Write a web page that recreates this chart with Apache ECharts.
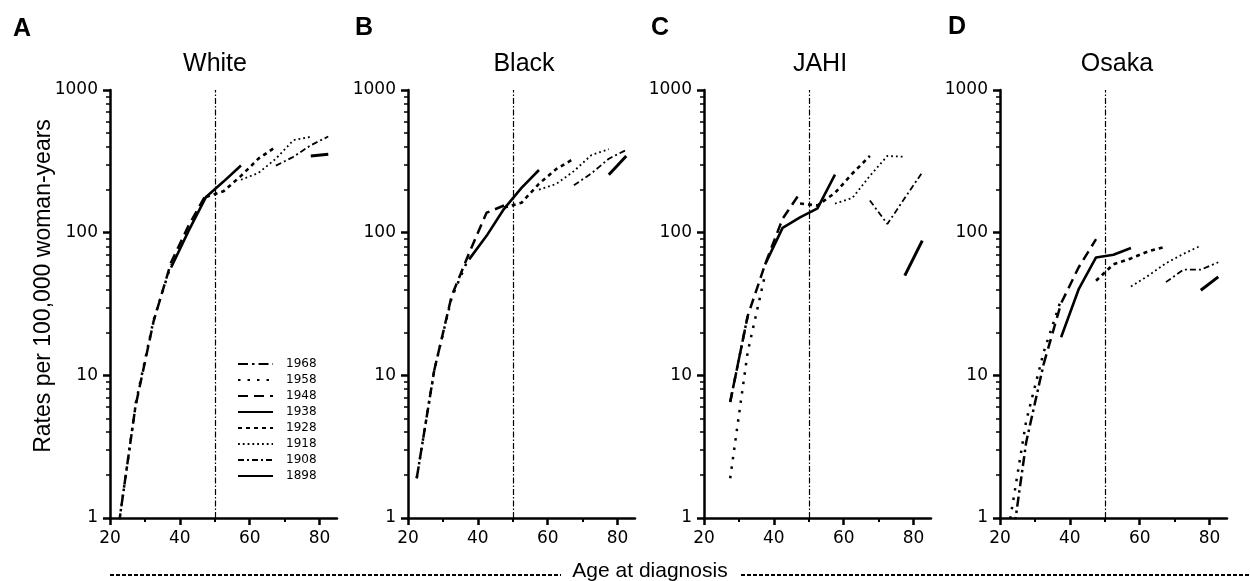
<!DOCTYPE html>
<html><head><meta charset="utf-8">
<script src="https://cdn.jsdelivr.net/npm/echarts@6/dist/echarts.min.js"></script>
<style>html,body{margin:0;padding:0;background:#fff}#c{width:1250px;height:581px}</style>
</head><body><div id="c"></div><script>
// ---- data ----
const cohorts = ['1968','1958','1948','1938','1928','1918','1908','1898'];
const panelTitles = ['White','Black','JAHI','Osaka'];
const panelLetters = ['A','B','C','D'];
const xTicks = [20,40,60,80];
const xMinorTicks = [30,50,70];
const yMinorTicks = [2,3,4,5,6,7,8,9,20,30,40,50,60,70,80,90,200,300,400,500,600,700,800,900];
const refAge = 50;
const xAxisLabel = 'Age at diagnosis';
const yAxisLabel = 'Rates per 100,000 woman-years';

// [age, rate] per cohort, in cohort order 1968 ... 1898
const white = [
  [[22.5,0.89],[27.5,6.6]],
  [[22.5,0.89],[27.5,6.6],[32.5,24.5],[37.5,60]],
  [[27.5,6.4],[32.5,24],[37.5,62],[42.5,112],[47.5,185]],
  [[37.5,57],[42.5,103],[47.5,178],[52.5,228],[57.5,296]],
  [[47.5,178],[52.5,195],[57.5,250],[62.5,330],[67.5,400]],
  [[57.5,235],[62.5,262],[67.5,330],[72.5,445],[77.5,470]],
  [[67.5,295],[72.5,340],[77.5,410],[82.5,472]],
  [[77.5,345],[82.5,355]]
];
const black = [
  [[22.5,1.9],[27.5,10.8]],
  [[22.5,1.9],[27.5,10.8],[32.5,35],[37.5,68]],
  [[27.5,10.8],[32.5,36],[37.5,72],[42.5,138],[47.5,155]],
  [[37.5,65],[42.5,95],[47.5,147],[52.5,206],[57.5,275]],
  [[47.5,150],[52.5,162],[57.5,220],[62.5,280],[67.5,330]],
  [[57.5,200],[62.5,220],[67.5,270],[72.5,350],[77.5,385]],
  [[67.5,215],[72.5,260],[77.5,330],[82.5,380]],
  [[77.5,255],[82.5,345]]
];
const jahi = [
  [[27.5,6.5],[32.5,26]],
  [[27.5,1.9],[32.5,14.5],[37.5,51]],
  [[27.5,6.5],[32.5,26],[37.5,60],[42.5,125],[47.5,190]],
  [[37.5,60],[42.5,108],[47.5,128],[52.5,148],[57.5,255]],
  [[47.5,160],[52.5,155],[57.5,190],[62.5,260],[67.5,345]],
  [[57.5,160],[62.5,175],[67.5,250],[72.5,345],[77.5,340]],
  [[67.5,168],[72.5,115],[77.5,175],[82.5,265]],
  [[77.5,50],[82.5,88]]
];
const osaka = [
  [[22.5,0.45],[27.5,3.4],[32.5,12]],
  [[22.5,0.85],[27.5,4.8],[32.5,14.5],[37.5,34]],
  [[32.5,12],[37.5,32],[42.5,57],[47.5,90]],
  [[37.5,18.5],[42.5,40],[47.5,67],[52.5,70],[57.5,78]],
  [[47.5,46],[52.5,60],[57.5,66],[62.5,74],[67.5,80]],
  [[57.5,42],[62.5,50],[67.5,61],[72.5,71],[77.5,81]],
  [[67.5,45],[72.5,55],[77.5,55],[82.5,62]],
  [[77.5,39.5],[82.5,49]]
];
const panels = [white, black, jahi, osaka];

// ---- styles ----
const cohortStyles = [
  {type:[10,4,2.5,4], width:2.5},
  {type:[2.5,7], width:2.5},
  {type:[10,6], width:2.5},
  {type:'solid', width:2.6},
  {type:[4,4], width:2.6},
  {type:[1.8,3], width:1.8},
  {type:[6,3,2,3], width:1.8},
  {type:'solid', width:3}
];
const gridLefts = [110, 408, 704, 1000];
const titleX = [215, 524, 820, 1117];
const letterPos = [[22,29],[364,28],[660,28],[957,27]];
const tickFont = 'DejaVu Sans';
const textFont = 'Liberation Sans, Arial, sans-serif';

const grid = [], xAxis = [], yAxis = [], series = [], graphic = [];
gridLefts.forEach((l, p) => {
  grid.push({left:l, top:90, width:227, height:428, containLabel:false, outerBoundsMode:'none'});
  xAxis.push({type:'value', gridIndex:p, min:20, max:85, position:'bottom',
    axisLine:{show:true, onZero:false, lineStyle:{color:'#000', width:2.5}},
    axisTick:{show:true, customValues:xTicks, length:7, lineStyle:{color:'#000', width:2.5}},
    axisLabel:{show:true, customValues:xTicks, color:'#000', fontSize:17, fontFamily:tickFont, margin:12},
    splitLine:{show:false}});
  xAxis.push({type:'value', gridIndex:p, min:20, max:85, position:'bottom',
    axisLine:{show:false},
    axisTick:{show:true, customValues:xMinorTicks, length:4, lineStyle:{color:'#000', width:2}},
    axisLabel:{show:false}, splitLine:{show:false}});
  yAxis.push({type:'log', logBase:10, gridIndex:p, min:1, max:1000, position:'left',
    axisLine:{show:true, onZero:false, lineStyle:{color:'#000', width:2.5}},
    axisTick:{show:true, length:7, lineStyle:{color:'#000', width:2.5}},
    axisLabel:{color:'#000', fontSize:17, fontFamily:tickFont, margin:12,
      formatter: v => String(Math.round(v))},
    splitLine:{show:false}});
  yAxis.push({type:'log', logBase:10, gridIndex:p, min:1, max:1000, position:'left',
    axisLine:{show:false},
    axisTick:{show:true, customValues:yMinorTicks, length:4, lineStyle:{color:'#000', width:1.5}},
    axisLabel:{show:false}, splitLine:{show:false}});
  panels[p].forEach((d, c) => {
    const s = {type:'line', name:cohorts[c], xAxisIndex:2*p, yAxisIndex:2*p, data:d,
      symbol:'none', silent:true, animation:false, clip:true,
      itemStyle:{color:'#000'},
      lineStyle:{color:'#000', width:cohortStyles[c].width, type:cohortStyles[c].type, cap:'butt'}};
    if (c === 3) {
      s.markLine = {silent:true, symbol:['none','none'], animation:false, label:{show:false},
        lineStyle:{color:'#000', width:1.2, type:[6,2,1.5,2]}, data:[{xAxis:refAge}]};
    }
    series.push(s);
  });
  graphic.push({type:'text', x:letterPos[p][0], y:letterPos[p][1],
    style:{text:panelLetters[p], font:'bold 25px ' + textFont, fill:'#000', textAlign:'center', textVerticalAlign:'middle'}});
  graphic.push({type:'text', x:titleX[p], y:64,
    style:{text:panelTitles[p], font:'25px ' + textFont, fill:'#000', textAlign:'center', textVerticalAlign:'middle'}});
});
graphic.push({type:'text', x:44, y:286, rotation:Math.PI/2,
  style:{text:yAxisLabel, font:'23px ' + textFont, fill:'#000', textAlign:'center', textVerticalAlign:'middle'}});
graphic.push({type:'text', x:650, y:571,
  style:{text:xAxisLabel, font:'21px ' + textFont, fill:'#000', textAlign:'center', textVerticalAlign:'middle'}});
graphic.push({type:'line', shape:{x1:110, y1:575, x2:561, y2:575}, style:{stroke:'#000', lineWidth:2, lineDash:[4,2]}});
graphic.push({type:'line', shape:{x1:741, y1:575, x2:1250, y2:575}, style:{stroke:'#000', lineWidth:2, lineDash:[4,2]}});

const chart = echarts.init(document.getElementById('c'), null, {renderer:'canvas'});
chart.setOption({
  backgroundColor:'#fff',
  animation:false,
  grid, xAxis, yAxis, series, graphic,
  legend:{data:cohorts, orient:'vertical', left:232, top:353, itemWidth:35, itemHeight:14, itemGap:4,
    selectedMode:false,
    itemStyle:{opacity:0, borderWidth:0},
    textStyle:{fontSize:12, fontFamily:tickFont, color:'#000', padding:[0,0,0,8]}}
});
</script></body></html>
